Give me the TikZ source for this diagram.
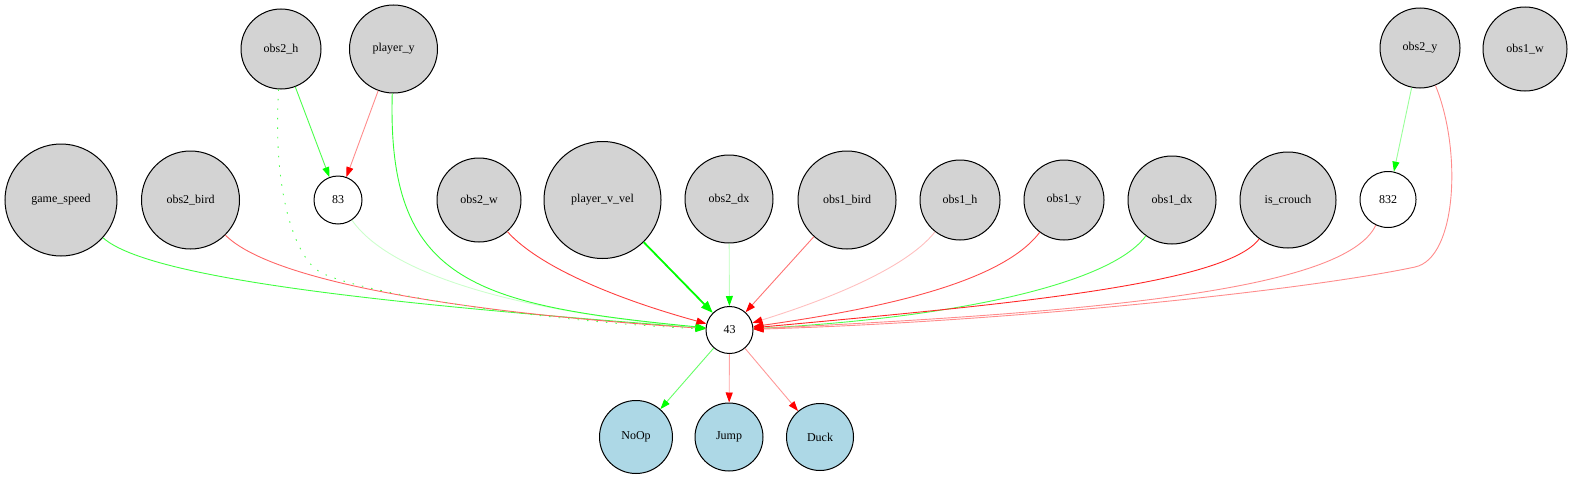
\documentclass[tikz,border=0pt]{standalone}
\usepackage{fontspec}
\setmainfont{Liberation Serif}
\usetikzlibrary{arrows.meta}
\definecolor{nodegray}{HTML}{D3D3D3}
\definecolor{nodeblue}{HTML}{ADD8E6}
\tikzset{
  nd/.style={circle, draw=black, line width=1pt, inner sep=0pt, font=\fontsize{12}{14}\selectfont},
  inp/.style={nd, fill=nodegray},
  hid/.style={nd, fill=white},
  outp/.style={nd, fill=nodeblue},
  gedge/.style={draw=green!#1, line width=0.9pt, -{Triangle[length=10pt,width=7pt,color=green]}},
  redge/.style={draw=red!#1, line width=0.9pt, -{Triangle[length=10pt,width=7pt,color=red]}},
}
\begin{document}
\begin{tikzpicture}[x=1pt,y=-1pt]
\useasboundingbox (0,0) rectangle (1573,479);
% top row
\node[inp, minimum size=80pt] (obs2_h) at (281,49) {obs2\_h};
\node[inp, minimum size=88pt] (player_y) at (393.5,49) {player\_y};
\node[inp, minimum size=80pt] (obs2_y) at (1420,48) {obs2\_y};
\node[inp, minimum size=84pt] (obs1_w) at (1525,49) {obs1\_w};
% middle row
\node[inp, minimum size=112pt] (game_speed) at (61,200) {game\_speed};
\node[inp, minimum size=98pt] (obs2_bird) at (190.5,200) {obs2\_bird};
\node[hid, minimum size=48pt] (n83) at (338,200) {83};
\node[inp, minimum size=84pt] (obs2_w) at (479,200) {obs2\_w};
\node[inp, minimum size=117pt] (player_v_vel) at (602.5,200) {player\_v\_vel};
\node[inp, minimum size=88pt] (obs2_dx) at (729,199) {obs2\_dx};
\node[inp, minimum size=98pt] (obs1_bird) at (847,200) {obs1\_bird};
\node[inp, minimum size=80pt] (obs1_h) at (960,200) {obs1\_h};
\node[inp, minimum size=80pt] (obs1_y) at (1064,200) {obs1\_y};
\node[inp, minimum size=88pt] (obs1_dx) at (1172,200) {obs1\_dx};
\node[inp, minimum size=96pt] (is_crouch) at (1288,200) {is\_crouch};
\node[hid, minimum size=56pt] (n832) at (1388,199.5) {832};
% hub
\node[hid, minimum size=47pt] (n43) at (729.5,330) {43};
% outputs
\node[outp, minimum size=73pt] (NoOp) at (636,437) {NoOp};
\node[outp, minimum size=68pt] (Jump) at (729,437) {Jump};
\node[outp, minimum size=67pt] (Duck) at (820,437) {Duck};

% edges into hidden nodes
\draw[gedge=70] (obs2_h) -- (n83);
\draw[redge=45] (player_y) -- (n83);
\draw[gedge=40] (obs2_y) -- (n832);

% edges into 43 from the left
\draw[gedge=75] (game_speed) .. controls (150,280) and (400,305) .. (n43);
\draw[redge=60] (obs2_bird) .. controls (270,280) and (450,312) .. (n43);
\draw[gedge=70, dash pattern=on 1.5pt off 8pt] (obs2_h) .. controls (272,200) and (298,260) .. (320,272)
      .. controls (360,294) and (550,322) .. (n43);
\draw[gedge=20] (n83) .. controls (390,275) and (520,312) .. (n43);
\draw[gedge=80] (player_y) .. controls (387,280) and (470,305) .. (n43);
\draw[redge=75] (obs2_w) .. controls (540,268) and (620,300) .. (n43);
% from above
\draw[draw=green, line width=1.8pt, -{Triangle[length=12pt,width=9pt,color=green]}] (player_v_vel) -- (n43);
\draw[gedge=25] (obs2_dx) -- (n43);
\draw[redge=55] (obs1_bird) -- (n43);
% from the right
\draw[redge=25] (obs1_h) .. controls (905,270) and (820,302) .. (n43);
\draw[redge=70] (obs1_y) .. controls (1000,285) and (870,310) .. (n43);
\draw[gedge=70] (obs1_dx) .. controls (1110,285) and (950,318) .. (n43);
\draw[redge=85] (is_crouch) .. controls (1225,285) and (1000,305) .. (n43);
\draw[redge=45] (n832) .. controls (1345,290) and (1100,312) .. (n43);
\draw[redge=45] (obs2_y) .. controls (1462,150) and (1457,258) .. (1415,267)
      .. controls (1300,291.4) and (1000,322) .. (n43);

% outputs
\draw[gedge=60] (n43) -- (NoOp);
\draw[redge=35] (n43) -- (Jump);
\draw[redge=40] (n43) -- (Duck);
\end{tikzpicture}
\end{document}
